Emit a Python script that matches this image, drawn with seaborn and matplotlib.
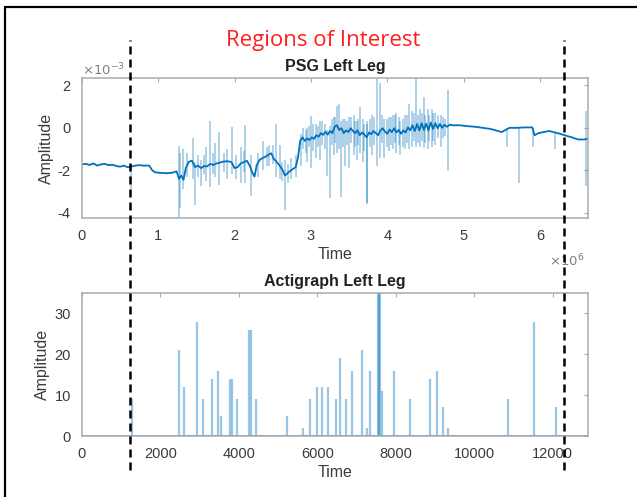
import numpy as np
import pandas as pd
import seaborn as sns
import matplotlib.pyplot as plt
from matplotlib.lines import Line2D

# PSG left leg, slow trace (time in 1e6 samples, amplitude in 1e-3)
psg_time = [0.00, 0.05, 0.10, 0.15, 0.20, 0.25, 0.30, 0.35, 0.40, 0.45, 0.50, 0.55, 0.60, 0.65,
            0.70, 0.75, 0.80, 0.88, 0.92, 0.96, 1.02, 1.10, 1.18, 1.24, 1.27, 1.30, 1.33, 1.36,
            1.40, 1.44, 1.48, 1.52, 1.56, 1.60, 1.64, 1.68, 1.72, 1.76, 1.80, 1.84, 1.88, 1.92,
            1.96, 2.00, 2.04, 2.08, 2.12, 2.16, 2.20, 2.23, 2.26, 2.29, 2.33, 2.37, 2.41, 2.45,
            2.48, 2.51, 2.55, 2.59, 2.63, 2.66, 2.69, 2.72, 2.76, 2.80, 2.83, 2.86, 2.89, 2.92,
            2.95, 2.98, 3.01, 3.04, 3.07, 3.10, 3.13, 3.16, 3.19, 3.22, 3.25, 3.28, 3.31, 3.34,
            3.37, 3.40, 3.43, 3.46, 3.49, 3.52, 3.55, 3.58, 3.61, 3.64, 3.67, 3.70, 3.73, 3.76,
            3.79, 3.82, 3.85, 3.88, 3.91, 3.94, 3.97, 4.00, 4.03, 4.06, 4.09, 4.12, 4.15, 4.18,
            4.21, 4.24, 4.27, 4.30, 4.33, 4.36, 4.39, 4.42, 4.45, 4.48, 4.51, 4.54, 4.57, 4.60,
            4.63, 4.66, 4.69, 4.72, 4.75, 4.78, 4.82, 4.86, 4.95, 5.05, 5.15, 5.25, 5.35, 5.45,
            5.50, 5.55, 5.60, 5.70, 5.80, 5.90, 5.93, 5.98, 6.05, 6.12, 6.20, 6.28, 6.35, 6.42,
            6.50, 6.58, 6.62]
psg_amp = [-1.72, -1.70, -1.75, -1.68, -1.78, -1.72, -1.70, -1.76, -1.74, -1.80, -1.83, -1.78, -1.86, -1.82,
           -1.78, -1.76, -1.78, -1.78, -2.00, -2.10, -2.12, -2.14, -2.12, -2.05, -2.40, -2.25, -2.45, -1.90,
           -1.60, -1.55, -1.85, -1.78, -1.90, -1.80, -1.82, -1.70, -1.75, -1.68, -1.65, -1.60, -1.58, -1.58,
           -1.62, -1.90, -1.85, -1.68, -1.62, -1.55, -1.80, -2.10, -2.30, -1.75, -1.50, -1.42, -1.35, -1.25,
           -1.20, -1.45, -1.60, -1.78, -2.00, -2.25, -2.15, -2.05, -1.95, -1.85, -1.40, -0.60, -0.45, -0.62,
           -0.50, -0.58, -0.45, -0.52, -0.35, -0.42, -0.25, -0.33, -0.18, -0.32, -0.15, -0.25, 0.05, 0.12,
           -0.10, -0.02, -0.25, -0.12, -0.20, -0.02, -0.15, -0.25, -0.12, -0.35, -0.22, -0.32, -0.45, -0.22,
           -0.30, -0.15, -0.25, -0.35, -0.12, -0.02, -0.18, -0.28, -0.08, -0.20, -0.02, -0.22, -0.10, -0.28,
           -0.12, -0.22, 0.02, -0.12, 0.12, -0.15, 0.18, -0.12, 0.22, -0.10, 0.20, -0.12, 0.25, -0.05,
           0.22, -0.02, 0.18, 0.00, 0.15, 0.05, 0.15, 0.12, 0.12, 0.08, 0.05, 0.00, -0.05, -0.15,
           -0.20, -0.10, 0.00, 0.00, 0.02, 0.02, -0.35, -0.25, -0.20, -0.15, -0.22, -0.30, -0.38, -0.45,
           -0.55, -0.55, -0.52]

# PSG artefact spikes: time, lower end, upper end
spike_time = [0.64, 1.27, 1.29, 1.33, 1.45, 1.48, 1.56, 1.62, 1.68, 1.74, 1.80, 1.90, 1.97, 2.08,
              2.14, 2.22, 2.37, 2.45, 2.54, 2.59, 2.66, 2.74, 2.87, 2.95, 3.00, 3.06, 3.12, 3.21,
              3.25, 3.30, 3.34, 3.37, 3.39, 3.44, 3.50, 3.56, 3.60, 3.64, 3.68, 3.73, 3.74, 3.80,
              3.87, 3.91, 3.96, 4.02, 4.08, 4.12, 4.17, 4.23, 4.29, 4.33, 4.38, 4.43, 4.48, 4.53,
              4.58, 4.63, 4.70, 4.79, 5.57, 5.72, 5.91, 6.20, 6.61,
              1.38, 1.52, 1.60, 1.72, 1.86, 2.02, 2.12, 2.30, 2.42, 2.50, 2.62, 2.70, 2.80,
              2.90, 2.93, 2.97, 3.03, 3.09, 3.15, 3.18, 3.28, 3.32, 3.42, 3.47, 3.53, 3.58, 3.62,
              3.70, 3.77, 3.83, 3.93, 3.99, 4.05, 4.10, 4.15, 4.20, 4.26, 4.35, 4.40, 4.45, 4.50,
              4.55, 4.60, 4.66, 4.73, 4.76]
spike_low = [-2.9, -4.25, -3.8, -2.9, -2.4, -3.62, -2.76, -2.5, -2.8, -2.3, -2.7, -2.4, -2.2, -2.6,
             -2.6, -3.2, -2.0, -1.8, -2.3, -2.4, -3.87, -2.4, -1.8, -1.6, -1.9, -1.4, -1.5, -2.29,
             -3.3, -1.3, -1.2, -1.0, -3.24, -1.8, -1.89, -1.3, -1.5, -1.2, -1.6, -3.6, -3.56, -1.3,
             -1.8, -1.4, -1.4, -1.1, -1.0, -1.2, -1.3, -1.0, -1.0, -0.9, -0.9, -0.9, -0.95, -1.0,
             -0.9, -0.8, -0.9, -2.05, -0.9, -2.6, -0.9, -1.0, -2.76,
             -2.3, -2.3, -2.2, -2.2, -2.1, -2.4, -2.1, -2.3, -1.8, -1.7, -2.5, -2.6, -2.3,
             -1.0, -1.2, -0.9, -1.1, -0.9, -0.8, -1.0, -0.8, -0.7, -0.9, -0.8, -0.7, -0.9, -0.8,
             -1.1, -0.9, -0.8, -0.7, -0.9, -0.8, -0.7, -0.8, -0.9, -0.7, -0.6, -0.7, -0.6, -0.7,
             -0.6, -0.6, -0.5, -0.5, -0.4]
spike_high = [-1.8, -0.86, -1.2, -1.0, -0.46, -1.6, -1.5, -0.9, 0.33, -0.7, -0.22, -1.0, 0.02, -0.9,
              0.14, -1.3, -0.6, -0.8, 0.17, -0.8, -1.5, -1.4, -0.3, 0.0, 0.57, 0.2, 0.3, -0.1,
              0.1, 0.5, 1.05, 1.13, 0.3, 0.4, 0.5, 0.6, 0.3, 0.97, 0.4, 0.3, 0.2, 0.6,
              2.35, 2.11, 0.4, 0.5, 0.6, 0.7, 0.3, 0.6, 1.13, 0.8, 2.35, 0.9, 1.44, 0.9,
              0.89, 0.7, 0.6, 1.76, 0.0, 0.0, 0.0, -0.2, 0.81,
              -1.2, -1.3, -1.3, -1.2, -1.2, -1.3, -1.1, -1.2, -0.9, -0.8, -1.6, -1.7, -1.3,
              0.0, -0.1, 0.1, 0.2, 0.1, 0.3, 0.2, 0.4, 0.5, 0.4, 0.3, 0.5, 0.3, 0.4,
              0.2, 0.4, 0.5, 0.6, 0.4, 0.5, 0.6, 0.5, 0.4, 0.6, 0.7, 0.6, 0.7, 0.6,
              0.6, 0.7, 0.6, 0.5, 0.4]

# Actigraph left leg: activity counts
acti_time = [1265, 2480, 2607, 2922, 3091, 3304, 3474, 3541, 3780, 3820, 3957, 4270, 4300, 4425,
             5231, 5639, 5809, 5995, 6110, 6280, 6480, 6585, 6740, 6896, 7150, 7269, 7350, 7550,
             7575, 7600, 7643, 7966, 8360, 8860, 9045, 9197, 9325, 10854, 11524, 12076]
acti_count = [9, 21, 12, 28, 9, 14, 16, 5, 14, 14, 9, 26, 26, 9,
              5, 2, 9, 12, 12, 12, 9, 19, 9, 16, 21, 2, 16, 35,
              35, 35, 11, 16, 9, 14, 16, 7, 2, 9, 28, 7]
acti_end = 12900

# region of interest, in actigraph time
roi_bounds = [1223, 12280]

psg_xticks = [0, 1, 2, 3, 4, 5, 6]
psg_yticks = [-4, -2, 0, 2]
acti_xticks = [0, 2000, 4000, 6000, 8000, 10000, 12000]
acti_yticks = [0, 10, 20, 30]

sns.set_style('white')
plt.rcParams['font.family'] = ['Liberation Sans', 'DejaVu Sans']
plt.rcParams['axes.unicode_minus'] = False

blue = '#0072BD'
grey = '#ababab'
txt = '#3a3a3a'

fig = plt.figure(figsize=(6.37, 4.97), dpi=100)
ax1 = fig.add_axes([0.1287, 0.5614, 0.7944, 0.2817])
ax2 = fig.add_axes([0.1287, 0.1227, 0.7944, 0.2878])

# top: PSG
psg = pd.DataFrame({'time': psg_time, 'amp': psg_amp})
ax1.vlines(spike_time, spike_low, spike_high, color=blue, alpha=0.4, lw=1.1)
sns.lineplot(data=psg, x='time', y='amp', ax=ax1, color=blue, lw=1.3, sort=False, estimator=None)
ax1.set_xlim(0, 6.63)
ax1.set_ylim(-4.25, 2.35)
ax1.set_xticks(psg_xticks)
ax1.set_yticks(psg_yticks)
ax1.text(0.042, 1.055, r'$\times10^{-3}$', transform=ax1.transAxes, fontsize=9.5,
         color='#808080', ha='center', va='center')
ax1.text(0.958, -0.305, r'$\times10^{6}$', transform=ax1.transAxes, fontsize=9.5,
         color='#808080', ha='center', va='center')

# bottom: actigraph
ax2.vlines(acti_time, 0, acti_count, color=blue, alpha=0.4, lw=1.6)
base = pd.DataFrame({'time': [0, acti_end], 'count': [0, 0]})
sns.lineplot(data=base, x='time', y='count', ax=ax2, color='#5b9bd5', lw=2)
ax2.set_xlim(0, acti_end)
ax2.set_ylim(0, 35)
ax2.set_xticks(acti_xticks)
ax2.set_yticks(acti_yticks)

for ax, title in [(ax1, 'PSG Left Leg'), (ax2, 'Actigraph Left Leg')]:
    ax.set_title(title, fontsize=11.5, fontweight='bold', color='#222222', pad=5)
    ax.set_xlabel('Time', fontsize=11.5, color=txt, labelpad=3)
    ax.set_ylabel('Amplitude', fontsize=11.5, color=txt, labelpad=3)
    ax.tick_params(direction='in', length=3, width=0.8, color=grey, labelcolor=txt,
                   labelsize=10.5, top=True, right=True, pad=8)
    for s in ax.spines.values():
        s.set_color(grey)
        s.set_linewidth(1.1)

# dashed region-of-interest markers spanning both panels
inv = fig.transFigure.inverted()
for t in roi_bounds:
    xf = inv.transform(ax2.transData.transform((t, 0)))[0]
    fig.add_artist(Line2D([xf, xf], [0.0543, 0.9195], color='black', lw=1.8,
                          linestyle=(0, (3.2, 2.0))))

# frame (top and left edges)
fig.add_artist(Line2D([5 / 637, 1], [1 - 7 / 497, 1 - 7 / 497], color='black', lw=1.6))
fig.add_artist(Line2D([5 / 637, 5 / 637], [0, 1 - 7 / 497], color='black', lw=1.6))

fig.text(0.507, 0.9195, 'Regions of Interest', color='#ff1f1f', fontsize=16,
         family=['Open Sans', 'DejaVu Sans'], ha='center', va='center')

fig.savefig('out.png', dpi=100)
